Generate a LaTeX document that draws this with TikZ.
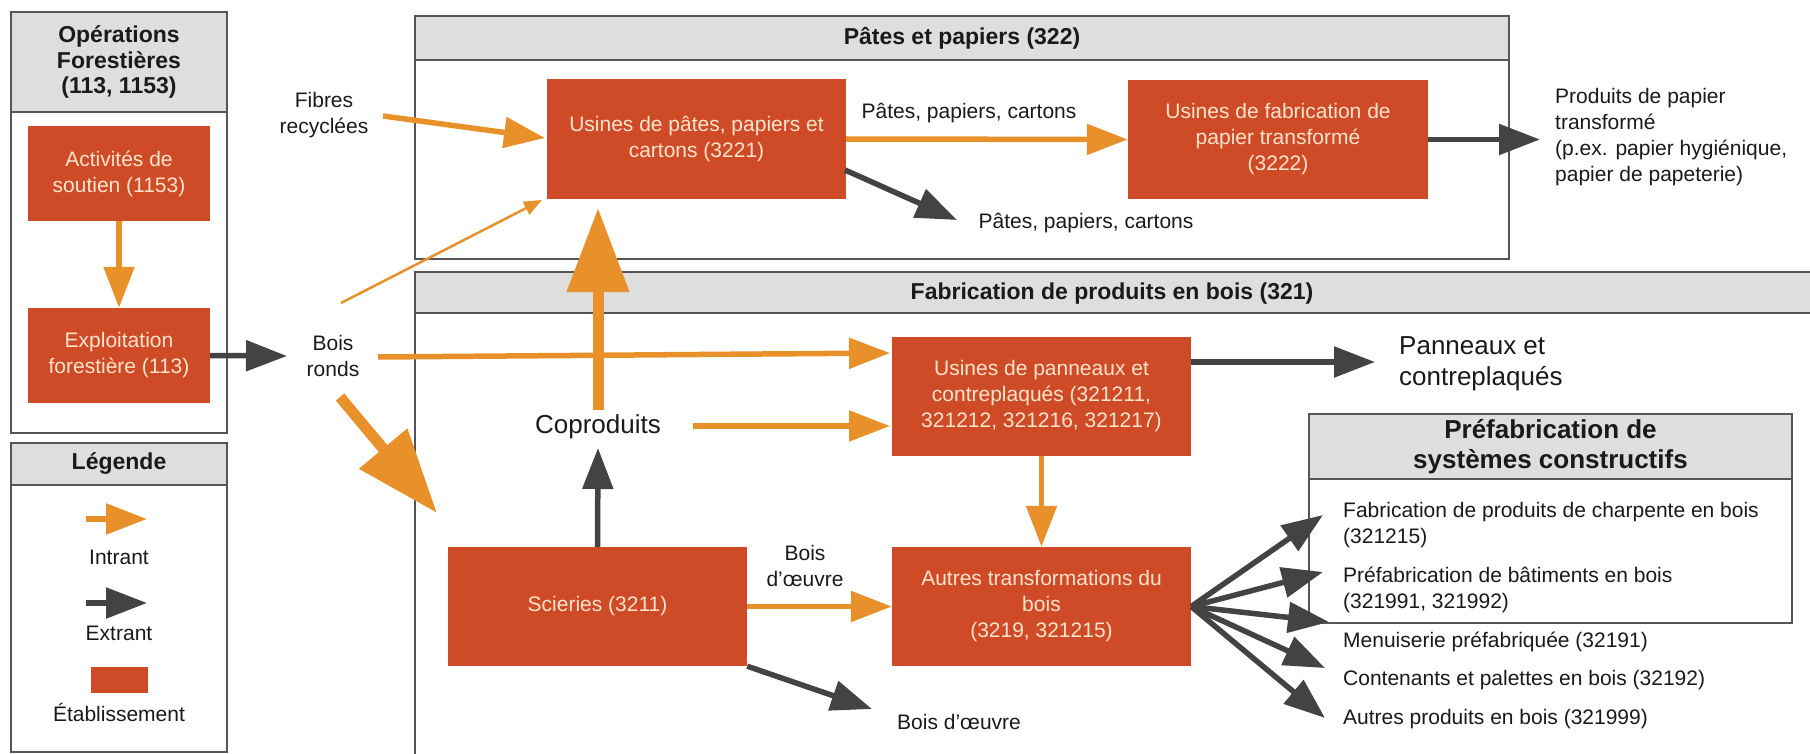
\documentclass[tikz,border=0pt]{standalone}
\usepackage{fontspec}
\setmainfont{Liberation Sans}
\usetikzlibrary{arrows.meta}
\definecolor{boxred}{RGB}{207,74,38}
\definecolor{boxtxt}{RGB}{252,229,205}
\definecolor{orng}{RGB}{232,145,42}
\definecolor{dgray}{RGB}{67,67,67}
\definecolor{hdrgray}{RGB}{222,222,222}
\definecolor{bord}{RGB}{85,85,85}
\definecolor{txt}{RGB}{26,26,26}
\newcommand\fsz[2]{\fontsize{#1pt}{#2pt}\selectfont}
\tikzset{
  est/.style={rectangle, fill=boxred, text=boxtxt, inner sep=0pt, align=center, font=\fsz{21}{26}},
  grp/.style={rectangle, draw=bord, line width=1.5pt, inner sep=0pt, fill=white},
  hdr/.style={rectangle, draw=bord, line width=1.5pt, fill=hdrgray, inner sep=0pt},
  ttl/.style={font=\bfseries\fsz{23}{25.5}, align=center, text=txt, inner sep=0pt},
  bigttl/.style={font=\bfseries\fsz{26}{30}, align=center, text=txt, inner sep=0pt},
  lbl/.style={font=\fsz{21}{26}, text=txt, inner sep=0pt, align=center},
  lbll/.style={font=\fsz{21}{26}, text=txt, inner sep=0pt, align=left, anchor=west},
  biglbl/.style={font=\fsz{26}{31}, text=txt, inner sep=0pt, align=left},
  inarr/.style={draw=orng, line width=5.5pt, -{Triangle[length=41pt,width=30pt]}},
  outarr/.style={draw=dgray, line width=5.5pt, -{Triangle[length=41pt,width=30pt]}},
  bigarr/.style={draw=orng, line width=11pt, -{Triangle[length=84pt,width=60pt]}},
  thinarr/.style={draw=orng, line width=2.5pt, -{Triangle[length=18pt,width=14pt]}},
}
\begin{document}
\begin{tikzpicture}[x=1pt,y=-1pt]
\useasboundingbox (0,0) rectangle (1810,754);

% ---------- Opérations forestières ----------
\node[grp, minimum width=216pt, minimum height=421pt] (opg) at (119,222.5) {};
\node[hdr, minimum width=216pt, minimum height=100pt] (oph) at (119,62) {};
\node[ttl] (opt) at (119,62) {Opérations\\Forestières\\(113, 1153)};
\node[est, minimum width=182pt, minimum height=95pt] (act) at (119,173.5) {Activités de\\soutien (1153)};
\node[est, minimum width=182pt, minimum height=95pt] (expl) at (119,355.5) {Exploitation\\forestière (113)};
\draw[inarr] (act.south) -- (expl.north);

% ---------- Légende ----------
\node[grp, minimum width=216pt, minimum height=309pt] (lgg) at (119,597.5) {};
\node[hdr, minimum width=216pt, minimum height=42pt] (lgh) at (119,464) {};
\node[ttl] (lgt) at (119,464) {Légende};
\coordinate (li1) at (86,519);
\coordinate (li2) at (147,519);
\draw[inarr] (li1) -- (li2);
\node[lbl] (lint) at (119,557) {Intrant};
\coordinate (lo1) at (86,603);
\coordinate (lo2) at (147,603);
\draw[outarr] (lo1) -- (lo2);
\node[lbl] (lext) at (119,633) {Extrant};
\node[est, minimum width=57pt, minimum height=26pt] (lrect) at (119.5,680) {};
\node[lbl] (letab) at (119,712) {Établissement};

% ---------- Free labels left ----------
\node[lbl] (boisr) at (333,356) {Bois\\ronds};
\node[lbl] (fibres) at (324,115) {Fibres\\recyclées};
\coordinate (boisrin) at (287,356);
\draw[outarr] (expl.east) -- (boisrin);

% ---------- Pâtes et papiers ----------
\node[grp, minimum width=1094pt, minimum height=243pt] (ppg) at (962,137.5) {};
\node[hdr, minimum width=1094pt, minimum height=44pt] (pph) at (962,38) {};
\node[ttl] (ppt) at (962,38) {Pâtes et papiers (322)};
\node[est, minimum width=299pt, minimum height=120pt] (usp) at (696.5,139) {Usines de pâtes, papiers et\\cartons (3221)};
\node[est, minimum width=300pt, minimum height=119pt] (usf) at (1278,139.5) {Usines de fabrication de\\papier transformé\\(3222)};
\draw[inarr] (usp.east) -- (usf.west);
\node[lbl] (ppc1) at (969,113) {Pâtes, papiers, cartons};
\node[lbll] (prod) at (1555,137) {Produits de papier\\transformé\\(p.ex. papier hygiénique,\\papier de papeterie)};
\coordinate (prodin) at (1540,139.5);
\draw[outarr] (usf.east) -- (prodin);
\coordinate (uspout) at (845,170);
\coordinate (ppc2in) at (957,220);
\draw[outarr] (uspout) -- (ppc2in);
\node[lbl] (ppc2) at (1086,223) {Pâtes, papiers, cartons};
\coordinate (fibout) at (383,116);
\coordinate (uspin1) at (545,138);
\draw[inarr] (fibout) -- (uspin1);

% ---------- Fabrication de produits en bois ----------
\node[grp, minimum width=1420pt, minimum height=520pt] (fbg) at (1125,532) {};
\node[hdr, minimum width=1420pt, minimum height=41pt] (fbh) at (1125,292.5) {};
\node[ttl] (fbt) at (1112,294) {Fabrication de produits en bois (321)};

\coordinate (boisout1) at (341,303);
\coordinate (uspin2) at (542,200);
\draw[thinarr] (boisout1) -- (uspin2);

\node[est, minimum width=299pt, minimum height=119pt] (pan) at (1041.5,396.5) {Usines de panneaux et\\contreplaqués (321211,\\321212, 321216, 321217)};
\node[est, minimum width=299pt, minimum height=119pt] (scie) at (597.5,606.5) {Scieries (3211)};
\node[est, minimum width=299pt, minimum height=119pt] (aut) at (1041.5,606.5) {Autres transformations du\\bois\\(3219, 321215)};

\coordinate (boisout2) at (378,357);
\coordinate (panin) at (890,353);
\draw[inarr] (boisout2) -- (panin);

\node[biglbl, align=center] (copro) at (598,427) {Coproduits};
\coordinate (coproout1) at (693,426);
\coordinate (panin2) at (890,426);
\draw[inarr] (coproout1) -- (panin2);
\coordinate (coproout2) at (598,410);
\coordinate (uspin3) at (598,208);
\draw[bigarr] (coproout2) -- (uspin3);

\coordinate (boisout3) at (340,397);
\coordinate (sciein) at (437,513);
\draw[bigarr] (boisout3) -- (sciein);

\coordinate (coproin) at (598,448);
\draw[outarr] (scie.north) -- (coproin);

\draw[inarr] (scie.east) -- (aut.west);
\node[lbl] (bo1) at (805,566) {Bois\\d’œuvre};
\draw[inarr] (pan.south) -- (aut.north);

\coordinate (bo2in) at (872,709);
\draw[outarr] (scie.south east) -- (bo2in);
\node[lbll] (bo2) at (897,722) {Bois d’œuvre};

\coordinate (panoutend) at (1375,362);
\coordinate (panout) at (1191,362);
\draw[outarr] (panout) -- (panoutend);
\node[biglbl, anchor=west] (pcp) at (1399,363.5) {Panneaux et\\contreplaqués};

% ---------- Préfabrication ----------
\node[grp, minimum width=483pt, minimum height=209pt] (pfg) at (1550.5,518.5) {};
\node[hdr, minimum width=483pt, minimum height=65pt] (pfh) at (1550.5,446.5) {};
\node[bigttl] (pft) at (1550.5,447) {Préfabrication de\\systèmes constructifs};
\node[lbll] (it1) at (1343,525) {Fabrication de produits de charpente en bois\\(321215)};
\node[lbll] (it2) at (1343,590) {Préfabrication de bâtiments en bois\\(321991, 321992)};
\node[lbll] (it3) at (1343,642) {Menuiserie préfabriquée (32191)};
\node[lbll] (it4) at (1343,680) {Contenants et palettes en bois (32192)};
\node[lbll] (it5) at (1343,719) {Autres produits en bois (321999)};
\coordinate (f1) at (1323,515);
\coordinate (f2) at (1323,572);
\coordinate (f3) at (1329,622);
\coordinate (f4) at (1325,668);
\coordinate (f5) at (1325,718);
\foreach \t in {f1,f2,f3,f4,f5} \draw[outarr] (aut.east) -- (\t);
\end{tikzpicture}
\end{document}
